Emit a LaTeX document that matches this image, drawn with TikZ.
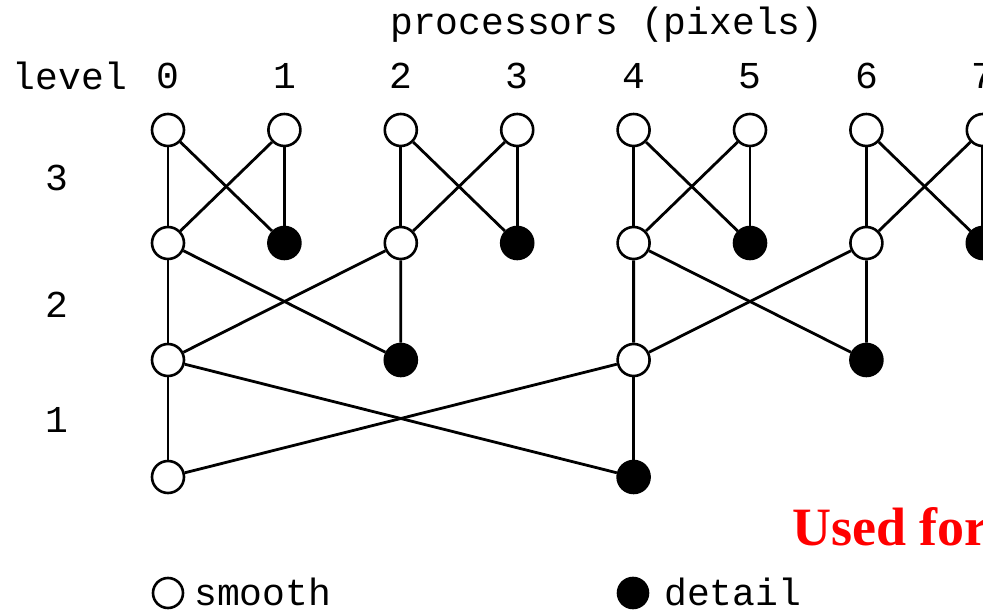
\documentclass[tikz,border=0pt]{standalone}
\usepackage{fontspec}
\setmonofont{Liberation Mono}
\newfontfamily\serifb{Liberation Serif}
\begin{document}
\begin{tikzpicture}[x=1pt,y=-1pt,
  smoothnode/.style={circle,draw=black,fill=white,line width=2.6pt,minimum size=32pt,inner sep=0pt},
  detailnode/.style={circle,draw=black,fill=black,line width=2.6pt,minimum size=32pt,inner sep=0pt},
  link/.style={line width=2.8pt},
  lbl/.style={font=\ttfamily\fontsize{38}{38}\selectfont,inner sep=0pt}]
\clip (0,0) rectangle (983,612);
\useasboundingbox (0,0) rectangle (983,612);
% header
\node[lbl] (title) at (607,25) {processors (pixels)};
\node[lbl] (lev) at (70,76) {level};
\foreach \i in {0,...,7}{
  \node[lbl] (c\i) at ({168+116.4*\i},76) {\i};
}
\node[lbl] (l3) at (57,178) {3};
\node[lbl] (l2) at (57,305) {2};
\node[lbl] (l1) at (57,420) {1};
% nodes
\foreach \i in {0,...,7}{
  \node[smoothnode] (t\i) at ({168+116.4*\i},130) {};
}
\foreach \i in {0,2,4,6}{
  \node[smoothnode] (m\i) at ({168+116.4*\i},243) {};
}
\foreach \i in {1,3,5,7}{
  \node[detailnode] (m\i) at ({168+116.4*\i},243) {};
}
\node[smoothnode] (r0) at (168,360) {};
\node[detailnode] (r2) at (400.8,360) {};
\node[smoothnode] (r4) at (633.6,360) {};
\node[detailnode] (r6) at (866.4,360) {};
\node[smoothnode] (b0) at (168,477) {};
\node[detailnode] (b4) at (633.6,477) {};
% level 3 links
\foreach \a/\b in {0/1,2/3,4/5,6/7}{
  \draw[link] (t\a) -- (m\a);
  \draw[link] (t\a) -- (m\b);
  \draw[link] (t\b) -- (m\a);
  \draw[link] (t\b) -- (m\b);
}
% level 2 links
\foreach \a/\b in {0/2,4/6}{
  \draw[link] (m\a) -- (r\a);
  \draw[link] (m\a) -- (r\b);
  \draw[link] (m\b) -- (r\a);
  \draw[link] (m\b) -- (r\b);
}
% level 1 links
\draw[link] (r0) -- (b0);
\draw[link] (r0) -- (b4);
\draw[link] (r4) -- (b0);
\draw[link] (r4) -- (b4);
% legend
\node[smoothnode,minimum size=30pt] (ls) at (168,593) {};
\node[lbl,anchor=west] (lst) at (194,592) {smooth};
\node[detailnode,minimum size=30pt] (ld) at (633,593) {};
\node[lbl,anchor=west] (ldt) at (664,592) {detail};
\node[anchor=base west,inner sep=0pt,text=red,font=\serifb\bfseries\fontsize{54}{54}\selectfont] (used) at (792,545) {Used for};
\end{tikzpicture}
\end{document}
